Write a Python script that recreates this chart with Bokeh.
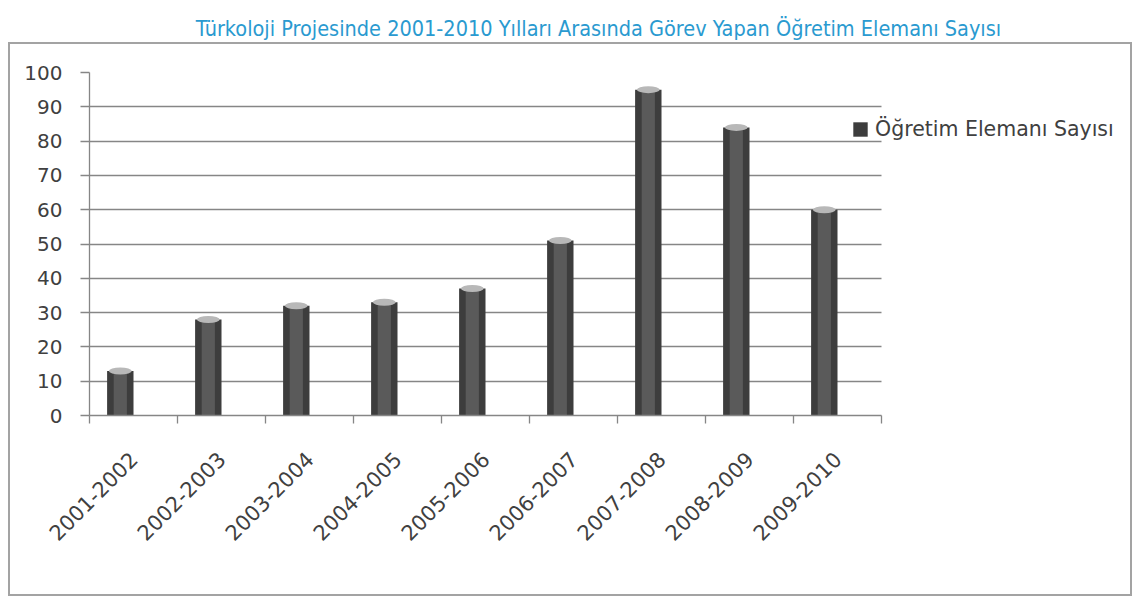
from math import pi
from bokeh.plotting import figure
from bokeh.layouts import column
from bokeh.models import (Range1d, LinearAxis, FixedTicker, Label, Legend, LegendItem,
                          ColumnDataSource)
from bokeh.embed import file_html
from bokeh.resources import INLINE

# ---- data ----
title_text = "Türkoloji Projesinde 2001-2010 Yılları Arasında Görev Yapan Öğretim Elemanı Sayısı"
series_name = "Öğretim Elemanı Sayısı"
years = ["2001-2002", "2002-2003", "2003-2004", "2004-2005", "2005-2006",
         "2006-2007", "2007-2008", "2008-2009", "2009-2010"]
counts = [13, 28, 32, 33, 37, 51, 95, 84, 60]
y_ticks = [0, 10, 20, 30, 40, 50, 60, 70, 80, 90, 100]

FONT = "DejaVu Sans"
TXT = "#404040"
GRID = "#868686"

n = len(years)
centers = [i + 0.5 for i in range(n)]          # category centres on a 0..n axis
bar_x = [c - 0.15 for c in centers]             # bars sit left of centre, as in the source

# ---- layout constants ----
W = 1124
LEFT = 79            # space left of the plotting frame
CAT_PX = 88          # pixels per category
FRAME_W = W - LEFT
x_end = FRAME_W / CAT_PX

# ---- title strip ----
tf = figure(width=W, height=42, x_range=Range1d(0, FRAME_W), y_range=Range1d(0, 42),
            output_backend="svg", toolbar_location=None,
            min_border_left=LEFT, min_border_right=0, min_border_top=0, min_border_bottom=0,
            x_axis_location=None, y_axis_location=None, outline_line_color=None)
tf.margin = (0, 0, 0, 10)
tf.xgrid.visible = False
tf.ygrid.visible = False
tf.add_layout(Label(x=509, y=14, text=title_text,
                    text_font="DejaVu Sans Condensed, DejaVu Sans",
                    text_font_size="21.5px", text_color="#2a9ad0", text_align="center",
                    text_baseline="alphabetic"))

# ---- main chart ----
src = ColumnDataSource(dict(x=bar_x, year=years, count=counts))
p = figure(width=W, height=554, x_range=Range1d(0, x_end), y_range=Range1d(0, 100),
           output_backend="svg", toolbar_location=None, x_axis_location=None,
           min_border_left=LEFT, min_border_top=28, min_border_right=0, min_border_bottom=183,
           outline_line_color=None, background_fill_color="white", border_fill_color="white")
p.margin = (0, 0, 0, 8)
p.styles = {"border": "2px solid #a3a3a3"}

p.xgrid.visible = False
p.ygrid.grid_line_color = GRID
p.ygrid.grid_line_width = 1.3
p.ygrid.ticker = FixedTicker(ticks=y_ticks)
p.ygrid.cross_bounds = (0, n)

ya = p.yaxis[0]
ya.ticker = FixedTicker(ticks=y_ticks)
ya.axis_line_color = GRID
ya.axis_line_width = 1.3
ya.major_tick_line_color = GRID
ya.major_tick_line_width = 1.3
ya.major_tick_out = 9
ya.major_tick_in = 0
ya.minor_tick_line_color = None
ya.major_label_text_font = FONT
ya.major_label_text_font_size = "20px"
ya.major_label_text_color = TXT
ya.major_label_standoff = 18

# boundary tick marks between categories
bounds = list(range(n + 1))
tick_axis = LinearAxis(ticker=FixedTicker(ticks=bounds), bounds=(0, n),
                       major_label_overrides={b: "" for b in bounds},
                       major_label_text_font_size="1px", major_label_standoff=0,
                       axis_line_color=GRID, axis_line_width=1.3,
                       major_tick_line_color=GRID, major_tick_line_width=1.3,
                       major_tick_out=8, major_tick_in=0, minor_tick_line_color=None)
p.add_layout(tick_axis, "below")

# category labels at the centres
cat_axis = LinearAxis(ticker=FixedTicker(ticks=centers), bounds=(0, n),
                      major_label_overrides={c: y for c, y in zip(centers, years)},
                      axis_line_color=None, major_tick_line_color=None, major_tick_out=0,
                      major_tick_in=0, minor_tick_line_color=None,
                      major_label_orientation=pi / 4,
                      major_label_text_font=FONT, major_label_text_font_size="21px",
                      major_label_text_color=TXT, major_label_standoff=32)
p.add_layout(cat_axis, "below")

r_outer = p.vbar(x="x", top="count", width=0.3, source=src, fill_color="#3d3d3d", line_color=None)
p.vbar(x="x", top="count", width=0.15, source=src, fill_color="#5a5a5a", line_color=None)
p.ellipse(x="x", y="count", width=0.26, height=7, height_units="screen", source=src,
          fill_color="#b8b8b8", line_color=None)

legend = Legend(items=[LegendItem(label=series_name, renderers=[r_outer])],
                location=(762, 274), margin=0, padding=0, glyph_width=18, glyph_height=18,
                label_height=18, label_standoff=6, spacing=0, border_line_color=None,
                background_fill_alpha=0, label_text_font=FONT, label_text_font_size="20.5px",
                label_text_color=TXT)
p.add_layout(legend)

layout = column(tf, p, spacing=0)
open("out.html", "w").write(file_html(layout, INLINE))
